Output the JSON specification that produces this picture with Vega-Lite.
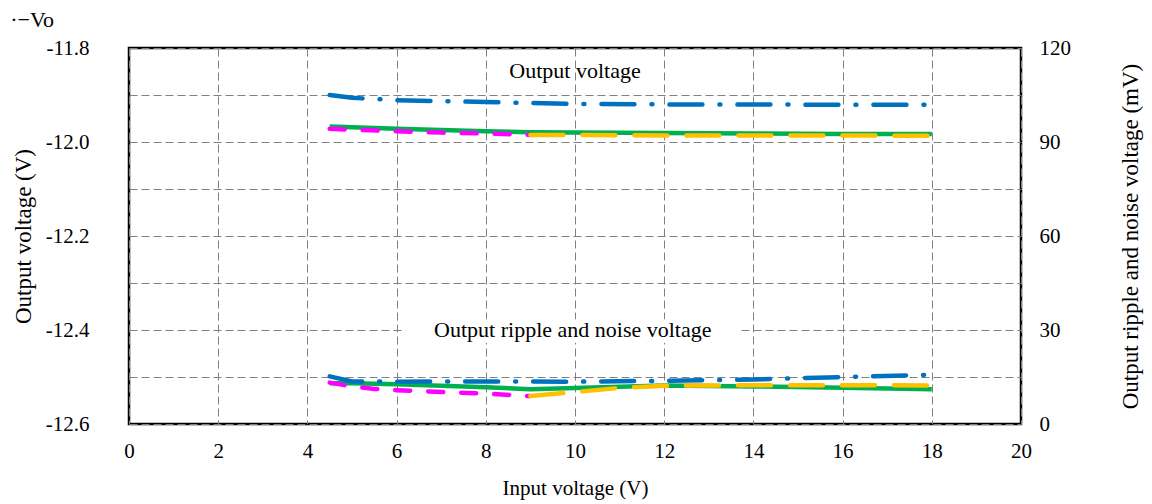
{
  "$schema": "https://vega.github.io/schema/vega-lite/v6.json",
  "width": 892,
  "height": 376,
  "padding": {"left": 10, "top": 9, "right": 5, "bottom": 5},
  "background": "white",
  "config": {
    "font": "Liberation Serif",
    "view": {"stroke": "black", "strokeWidth": 2.5},
    "axis": {
      "labelFontSize": 21,
      "titleFontSize": 21,
      "titleFontWeight": "normal",
      "labelColor": "black",
      "titleColor": "black",
      "domain": false,
      "ticks": false,
      "gridColor": "#808080",
      "gridDash": [8, 4],
      "gridWidth": 1,
      "labelFlush": false
    }
  },
  "title": {
    "text": "·−Vo",
    "anchor": "start",
    "frame": "bounds",
    "fontSize": 22,
    "fontWeight": "normal",
    "offset": 5,
    "dx": -2,
    "color": "black"
  },
  "datasets": {
    "vo": [
      {"series": "blue", "vin": 4.5, "value": -11.900},
      {"series": "blue", "vin": 5, "value": -11.906},
      {"series": "blue", "vin": 6, "value": -11.911},
      {"series": "blue", "vin": 8, "value": -11.915},
      {"series": "blue", "vin": 10, "value": -11.919},
      {"series": "blue", "vin": 12, "value": -11.920},
      {"series": "blue", "vin": 14, "value": -11.920},
      {"series": "blue", "vin": 16, "value": -11.921},
      {"series": "blue", "vin": 18, "value": -11.921},
      {"series": "green", "vin": 4.5, "value": -11.967},
      {"series": "green", "vin": 6, "value": -11.972},
      {"series": "green", "vin": 8, "value": -11.977},
      {"series": "green", "vin": 9, "value": -11.979},
      {"series": "green", "vin": 10, "value": -11.980},
      {"series": "green", "vin": 12, "value": -11.981},
      {"series": "green", "vin": 14, "value": -11.982},
      {"series": "green", "vin": 16, "value": -11.983},
      {"series": "green", "vin": 18, "value": -11.983},
      {"series": "magenta", "vin": 4.5, "value": -11.972},
      {"series": "magenta", "vin": 5, "value": -11.974},
      {"series": "magenta", "vin": 6, "value": -11.977},
      {"series": "magenta", "vin": 7, "value": -11.980},
      {"series": "magenta", "vin": 8, "value": -11.982},
      {"series": "magenta", "vin": 9, "value": -11.985},
      {"series": "orange", "vin": 9, "value": -11.985},
      {"series": "orange", "vin": 10, "value": -11.985},
      {"series": "orange", "vin": 12, "value": -11.986},
      {"series": "orange", "vin": 14, "value": -11.986},
      {"series": "orange", "vin": 16, "value": -11.986},
      {"series": "orange", "vin": 18, "value": -11.987}
    ],
    "ripple": [
      {"series": "blue", "vin": 4.5, "value": 15.2},
      {"series": "blue", "vin": 5, "value": 13.6},
      {"series": "blue", "vin": 6, "value": 13.5},
      {"series": "blue", "vin": 8, "value": 13.6},
      {"series": "blue", "vin": 10, "value": 13.5},
      {"series": "blue", "vin": 12, "value": 13.8},
      {"series": "blue", "vin": 14, "value": 14.2},
      {"series": "blue", "vin": 16, "value": 15.0},
      {"series": "blue", "vin": 18, "value": 15.7},
      {"series": "green", "vin": 4.5, "value": 13.0},
      {"series": "green", "vin": 5, "value": 13.0},
      {"series": "green", "vin": 6, "value": 12.7},
      {"series": "green", "vin": 7, "value": 12.2},
      {"series": "green", "vin": 8, "value": 11.7},
      {"series": "green", "vin": 9, "value": 11.1},
      {"series": "green", "vin": 10, "value": 11.5},
      {"series": "green", "vin": 11, "value": 11.9},
      {"series": "green", "vin": 12, "value": 12.3},
      {"series": "green", "vin": 14, "value": 12.0},
      {"series": "green", "vin": 16, "value": 11.6},
      {"series": "green", "vin": 18, "value": 11.1},
      {"series": "magenta", "vin": 4.5, "value": 13.2},
      {"series": "magenta", "vin": 5, "value": 12.0},
      {"series": "magenta", "vin": 5.5, "value": 11.2},
      {"series": "magenta", "vin": 6, "value": 10.8},
      {"series": "magenta", "vin": 7, "value": 10.2},
      {"series": "magenta", "vin": 8, "value": 9.7},
      {"series": "magenta", "vin": 9, "value": 8.9},
      {"series": "orange", "vin": 9, "value": 8.9},
      {"series": "orange", "vin": 10, "value": 10.2},
      {"series": "orange", "vin": 11, "value": 11.5},
      {"series": "orange", "vin": 12, "value": 12.2},
      {"series": "orange", "vin": 14, "value": 12.4},
      {"series": "orange", "vin": 16, "value": 12.4},
      {"series": "orange", "vin": 18, "value": 12.3}
    ],
    "notes": [
      {"label": "Output voltage"},
      {"label": "Output ripple  and noise  voltage"}
    ]
  },
  "layer": [
    {
      "layer": [
        {
          "data": {"name": "vo"},
          "transform": [{"filter": "datum.series == 'green'"}],
          "mark": {"type": "line", "color": "#00B050", "strokeWidth": 4.5},
          "encoding": {
            "x": {
              "field": "vin", "type": "quantitative",
              "scale": {"domain": [0, 20], "nice": false},
              "axis": {
                "title": "Input voltage (V)",
                "values": [0, 2, 4, 6, 8, 10, 12, 14, 16, 18, 20],
                "grid": true,
                "labelPadding": 16,
                "titlePadding": 16
              }
            },
            "y": {
              "field": "value", "type": "quantitative",
              "scale": {"domain": [-12.6, -11.8], "nice": false, "zero": false},
              "axis": {
                "title": "Output voltage (V)",
                "titleFontSize": 23,
                "orient": "left",
                "values": [-12.6, -12.5, -12.4, -12.3, -12.2, -12.1, -12.0, -11.9, -11.8],
                "labelExpr": "round(datum.value * 10) % 2 == 0 ? '-' + format(abs(datum.value), '.1f') : ''",
                "grid": true,
                "labelPadding": 40,
                "titlePadding": 10
              }
            }
          }
        },
        {
          "data": {"name": "vo"},
          "transform": [{"filter": "datum.series == 'magenta'"}],
          "mark": {"type": "line", "color": "#FF00FF", "strokeWidth": 4.5, "strokeDash": [15, 18], "strokeCap": "round"},
          "encoding": {
            "x": {"field": "vin", "type": "quantitative"},
            "y": {"field": "value", "type": "quantitative"}
          }
        },
        {
          "data": {"name": "vo"},
          "transform": [{"filter": "datum.series == 'orange'"}],
          "mark": {"type": "line", "color": "#FFC000", "strokeWidth": 4.5, "strokeDash": [33, 19], "strokeCap": "round"},
          "encoding": {
            "x": {"field": "vin", "type": "quantitative"},
            "y": {"field": "value", "type": "quantitative"}
          }
        },
        {
          "data": {"name": "vo"},
          "transform": [{"filter": "datum.series == 'blue'"}],
          "mark": {"type": "line", "color": "#0070C0", "strokeWidth": 4.5, "strokeDash": [33, 17, 1, 17], "strokeCap": "round"},
          "encoding": {
            "x": {"field": "vin", "type": "quantitative"},
            "y": {"field": "value", "type": "quantitative"}
          }
        },
        {
          "data": {"name": "notes"},
          "transform": [{"filter": "datum.label != 'Output voltage'"}],
          "mark": {"type": "rect", "fill": "white"},
          "encoding": {
            "x": {"datum": 6.2},
            "x2": {"datum": 13.7},
            "y": {"datum": -12.377},
            "y2": {"datum": -12.427}
          }
        },
        {
          "data": {"name": "notes"},
          "transform": [{"filter": "datum.label == 'Output voltage'"}],
          "mark": {"type": "text", "fontSize": 22, "color": "black", "align": "center", "baseline": "middle"},
          "encoding": {
            "x": {"datum": 10},
            "y": {"datum": -11.848},
            "text": {"field": "label"}
          }
        },
        {
          "data": {"name": "notes"},
          "transform": [{"filter": "datum.label != 'Output voltage'"}],
          "mark": {"type": "text", "fontSize": 22, "color": "black", "align": "center", "baseline": "middle"},
          "encoding": {
            "x": {"datum": 9.95},
            "y": {"datum": -12.4},
            "text": {"field": "label"}
          }
        }
      ]
    },
    {
      "data": {"name": "ripple"},
      "encoding": {
        "x": {"field": "vin", "type": "quantitative"},
        "y": {
          "field": "value", "type": "quantitative",
          "scale": {"domain": [0, 120], "nice": false},
          "axis": {
            "title": "Output ripple and noise voltage (mV)",
            "titleFontSize": 23,
            "orient": "right",
            "values": [0, 30, 60, 90, 120],
            "grid": false,
            "labelPadding": 18,
            "titlePadding": 72,
            "titleAngle": 270
          }
        }
      },
      "layer": [
        {
          "transform": [{"filter": "datum.series == 'green'"}],
          "mark": {"type": "line", "color": "#00B050", "strokeWidth": 4.5}
        },
        {
          "transform": [{"filter": "datum.series == 'magenta'"}],
          "mark": {"type": "line", "color": "#FF00FF", "strokeWidth": 4.5, "strokeDash": [15, 18], "strokeCap": "round"}
        },
        {
          "transform": [{"filter": "datum.series == 'orange'"}],
          "mark": {"type": "line", "color": "#FFC000", "strokeWidth": 4.5, "strokeDash": [33, 19], "strokeCap": "round"}
        },
        {
          "transform": [{"filter": "datum.series == 'blue'"}],
          "mark": {"type": "line", "color": "#0070C0", "strokeWidth": 4.5, "strokeDash": [33, 17, 1, 17], "strokeCap": "round"}
        }
      ]
    }
  ],
  "resolve": {"scale": {"y": "independent"}, "axis": {"y": "independent"}}
}
